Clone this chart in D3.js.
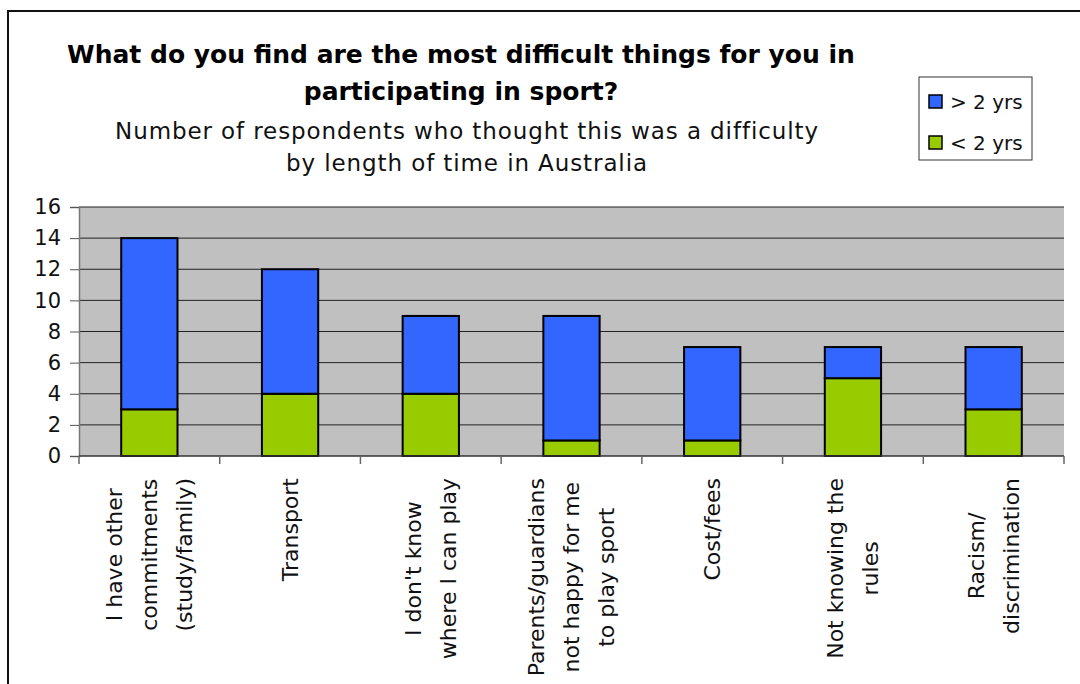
<!DOCTYPE html>
<html>
<head>
<meta charset="utf-8">
<script src="https://cdn.jsdelivr.net/npm/d3@7/dist/d3.min.js"></script>
<style>
  body { margin: 0; background: #fff; }
  svg { display: block; font-family: "Century Gothic", "DejaVu Sans", sans-serif; }
</style>
</head>
<body>
<div id="container"></div>
<script>
/* DATA */
const categories = [
  ["I have other", "commitments", "(study/family)"],
  ["Transport"],
  ["I don't know", "where I can play"],
  ["Parents/guardians", "not happy for me", "to play sport"],
  ["Cost/fees"],
  ["Not knowing the", "rules"],
  ["Racism/", "discrimination"]
];
const under2yrs = [3, 4, 4, 1, 1, 5, 3];
const over2yrs = [11, 8, 5, 8, 6, 2, 4];
const seriesNames = ["> 2 yrs", "< 2 yrs"];
const yTicks = [0, 2, 4, 6, 8, 10, 12, 14, 16];
const titleLines = ["What do you find are the most difficult things for you in", "participating in sport?"];
const subtitleLines = ["Number of respondents who thought this was a difficulty", "by length of time in Australia"];

/* CONSTANTS */
const width = 1080, height = 684;
const plot = { left: 79, right: 1064, top: 207, bottom: 456 };
const colors = { over: "#3366FF", under: "#99CC00", bg: "#C0C0C0" };

const svg = d3.select("#container")
  .append("svg")
  .attr("width", width)
  .attr("height", height);

// outer chart border (runs past the window on right and bottom)
svg.append("rect")
  .attr("x", 8).attr("y", 11)
  .attr("width", 1100).attr("height", 720)
  .attr("fill", "#fff")
  .attr("stroke", "#111")
  .attr("stroke-width", 2);

// TITLE
svg.selectAll("text.title")
  .data(titleLines)
  .join("text")
  .attr("class", "title")
  .attr("x", 461)
  .attr("y", (d, i) => 63 + i * 37)
  .attr("text-anchor", "middle")
  .attr("font-size", 25)
  .attr("font-weight", "bold")
  .attr("letter-spacing", 0)
  .attr("fill", "#000")
  .text(d => d);

svg.selectAll("text.subtitle")
  .data(subtitleLines)
  .join("text")
  .attr("class", "subtitle")
  .attr("x", 467)
  .attr("y", (d, i) => 139 + i * 32)
  .attr("text-anchor", "middle")
  .attr("font-size", 23)
  .attr("letter-spacing", 0.9)
  .attr("fill", "#111")
  .text(d => d);

// SCALES
const idx = categories.map((d, i) => i);
const x = d3.scaleBand()
  .domain(idx)
  .range([plot.left, plot.right])
  .paddingInner(0.6)
  .paddingOuter(0.3);
const xEdges = d3.scaleBand().domain(idx).range([plot.left, plot.right]);
const y = d3.scaleLinear().domain([0, 16]).range([plot.bottom, plot.top]);

// plot background
svg.append("rect")
  .attr("x", plot.left).attr("y", plot.top)
  .attr("width", plot.right - plot.left)
  .attr("height", plot.bottom - plot.top)
  .attr("fill", colors.bg);

// gridlines
svg.selectAll("line.grid")
  .data(yTicks.filter(d => d > 0))
  .join("line")
  .attr("class", "grid")
  .attr("x1", plot.left).attr("x2", plot.right)
  .attr("y1", d => y(d)).attr("y2", d => y(d))
  .attr("stroke", "#222")
  .attr("stroke-width", 1);

// Y AXIS
const yAxis = svg.append("g")
  .attr("transform", `translate(${plot.left},0)`)
  .call(d3.axisLeft(y).tickValues(yTicks).tickSize(9).tickPadding(9).tickFormat(d3.format("d")));
yAxis.select(".domain").attr("stroke", "#777").attr("stroke-width", 1.5);
yAxis.selectAll(".tick line").attr("stroke", "#555");
yAxis.selectAll(".tick text")
  .attr("font-size", 21)
  .attr("font-family", "\"Century Gothic\", \"DejaVu Sans\", sans-serif")
  .attr("fill", "#111");

// STACKED BARS
const rows = idx.map(i => ({ i, under: under2yrs[i], over: over2yrs[i] }));
const stacked = d3.stack().keys(["under", "over"])(rows);

svg.selectAll("g.series")
  .data(stacked)
  .join("g")
  .attr("class", "series")
  .attr("fill", d => colors[d.key])
  .selectAll("rect")
  .data(d => d)
  .join("rect")
  .attr("x", d => x(d.data.i))
  .attr("width", x.bandwidth())
  .attr("y", d => y(d[1]))
  .attr("height", d => y(d[0]) - y(d[1]))
  .attr("stroke", "#000")
  .attr("stroke-width", 2);

// X AXIS line and category ticks
svg.append("line")
  .attr("x1", plot.left).attr("x2", plot.right)
  .attr("y1", plot.bottom).attr("y2", plot.bottom)
  .attr("stroke", "#333").attr("stroke-width", 1.5);

const edges = idx.map(i => xEdges(i)).concat([plot.right]);
svg.selectAll("line.xtick")
  .data(edges)
  .join("line")
  .attr("class", "xtick")
  .attr("x1", d => d).attr("x2", d => d)
  .attr("y1", plot.bottom).attr("y2", plot.bottom + 8)
  .attr("stroke", "#666").attr("stroke-width", 1.5);

// rotated category labels
const labelTop = 478, lineGap = 35;
const labels = svg.selectAll("g.xlabel")
  .data(categories)
  .join("g")
  .attr("class", "xlabel")
  .attr("transform", (d, i) => `translate(${x(i) + x.bandwidth() / 2},${labelTop}) rotate(-90)`);

labels.each(function (lines) {
  const g = d3.select(this);
  const texts = g.selectAll("text")
    .data(lines)
    .join("text")
    .attr("font-size", 22)
    .attr("fill", "#111")
    .attr("text-anchor", "middle")
    .attr("y", (d, j) => (j - (lines.length - 1) / 2) * lineGap)
    .attr("dy", "0.35em")
    .text(d => d);
  const maxLen = d3.max(texts.nodes(), n => n.getComputedTextLength());
  texts.attr("x", -maxLen / 2);
});

// LEGEND
const legend = svg.append("g").attr("transform", "translate(919,77)");
legend.append("rect")
  .attr("width", 113).attr("height", 83)
  .attr("fill", "#fff")
  .attr("stroke", "#333").attr("stroke-width", 1);

const legendItems = legend.selectAll("g.item")
  .data(seriesNames)
  .join("g")
  .attr("class", "item")
  .attr("transform", (d, i) => `translate(10,${18 + i * 41})`);
legendItems.append("rect")
  .attr("width", 13).attr("height", 13)
  .attr("fill", (d, i) => i === 0 ? colors.over : colors.under)
  .attr("stroke", "#000").attr("stroke-width", 1.5);
legendItems.append("text")
  .attr("x", 21).attr("y", 7)
  .attr("dy", "0.35em")
  .attr("font-size", 20)
  .attr("fill", "#111")
  .text(d => d);
</script>
</body>
</html>
